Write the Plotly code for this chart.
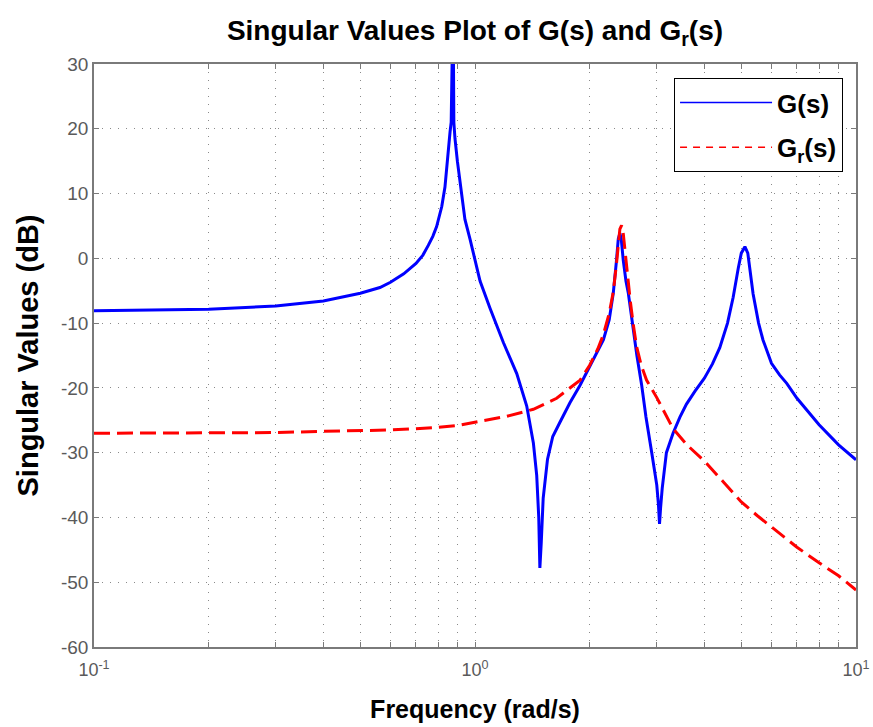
import plotly.graph_objects as go

# ---- data ----
freq_G = [0.1, 0.15, 0.2, 0.3, 0.4, 0.5, 0.563, 0.6, 0.65, 0.7, 0.73, 0.754, 0.775, 0.793,
          0.818, 0.834, 0.843, 0.851, 0.860, 0.866, 0.870, 0.876, 0.880, 0.886, 0.899, 0.923,
          0.941, 0.97, 1.0, 1.031, 1.095, 1.187, 1.287, 1.367, 1.423, 1.452, 1.47, 1.48,
          1.492, 1.51, 1.55, 1.6, 1.671, 1.775, 1.887, 2.0, 2.1, 2.172, 2.25, 2.306, 2.35,
          2.377, 2.40, 2.42, 2.45, 2.49, 2.526, 2.57, 2.604, 2.66, 2.737, 2.81, 2.91, 3.0,
          3.03, 3.05, 3.07, 3.1, 3.18, 3.31, 3.45, 3.59, 3.78, 4.0, 4.2, 4.39, 4.6, 4.76,
          4.91, 5.0, 5.11, 5.2, 5.37, 5.55, 5.7, 6.0, 6.3, 6.58, 7.0, 7.5, 8.0, 9.0, 10.0]
mag_G = [-8.1, -8.0, -7.85, -7.35, -6.6, -5.4, -4.5, -3.7, -2.4, -0.8, 0.5, 2.0, 3.4, 4.9,
         8.0, 11.0, 14.0, 17.5, 19.5, 21.0, 40.0, 40.0, 21.0, 18.5, 15.0, 9.5,
         6.0, 3.0, -0.2, -3.5, -7.7, -13.0, -17.8, -22.8, -28.5, -33.5, -40.0, -47.8,
         -44.0, -37.0, -31.0, -27.5, -25.3, -22.3, -19.6, -16.7, -14.5, -12.6, -9.5, -5.4, -0.5,
         3.0, 3.9, 3.0, -0.3, -3.5, -5.4, -8.5, -11.6, -15.0, -19.5, -24.5, -30.0, -35.0,
         -38.0, -41.0, -38.5, -35.5, -30.0, -27.0, -24.5, -22.5, -20.5, -18.5, -16.3, -13.8, -10.0, -6.0,
         -1.5, 0.8, 1.8, 0.8, -5.5, -10.0, -12.6, -16.2, -18.0, -19.3, -21.6, -23.8, -25.7, -28.8, -31.1]

freq_Gr = [0.1, 0.2, 0.3, 0.4, 0.5, 0.6, 0.7, 0.8, 0.9, 1.0, 1.21, 1.423, 1.638, 1.887,
           2.0, 2.1, 2.172, 2.25, 2.306, 2.35, 2.377, 2.40, 2.425, 2.45, 2.475, 2.51, 2.554,
           2.6, 2.655, 2.73, 2.82, 3.0, 3.31, 3.6, 4.0, 4.5, 5.0, 5.5, 6.0, 7.0, 8.0, 9.0, 10.0]
mag_Gr = [-27.0, -27.0, -26.9, -26.7, -26.6, -26.5, -26.3, -26.1, -25.8, -25.3, -24.4, -23.3,
          -21.6, -18.8, -16.5, -14.0, -11.8, -8.5, -5.2, -1.0, 2.5, 4.5, 5.1, 3.8, 1.3, -2.5,
          -6.4, -10.0, -13.6, -16.5, -18.8, -21.5, -26.3, -28.8, -31.3, -34.6, -37.6, -39.7,
          -41.5, -44.6, -47.0, -49.0, -51.2]

y_ticks = [-60, -50, -40, -30, -20, -10, 0, 10, 20, 30]
y_tick_labels = ["-60", "-50", "-40", "-30", "-20", "-10", "0", "10", "20", "30"]
x_major = [0.1, 1, 10]
x_major_labels = ["10<sup>-1</sup>", "10<sup>0</sup>", "10<sup>1</sup>"]

# all grid positions on the log axis (majors + 2..9 minors)
x_grid = []
x_grid_text = []
for dec in [0.1, 1]:
    for k in range(1, 10):
        v = round(dec * k, 3)
        x_grid.append(v)
        x_grid_text.append(x_major_labels[x_major.index(v)] if v in x_major else "")
x_grid.append(10)
x_grid_text.append(x_major_labels[2])

FONT = "Arial, Liberation Sans, Helvetica, sans-serif"
AXIS_GRAY = "#7a7a7a"
GRID_GRAY = "#8a8a8a"
TICK_TEXT = "#5a5a5a"
W, H = 873, 727

fig = go.Figure()
fig.add_trace(go.Scatter(x=freq_G, y=mag_G, mode="lines", name="G(s)",
                         line=dict(color="#0000ff", width=3), showlegend=False))
fig.add_trace(go.Scatter(x=freq_Gr, y=mag_Gr, mode="lines", name="G<sub>r</sub>(s)",
                         line=dict(color="#ff0000", width=3, dash="16px,7px"), showlegend=False))
# legend samples (thin lines like the reference legend)
fig.add_trace(go.Scatter(x=[None], y=[None], mode="lines", name="<b>G(s)</b>", legendgroup="a",
                         line=dict(color="#0000ff", width=1.5)))
fig.add_trace(go.Scatter(x=[None], y=[None], mode="lines", name="<b>G<sub>r</sub>(s)</b>", legendgroup="b",
                         line=dict(color="#ff0000", width=1.5, dash="7px,6px")))

fig.update_layout(
    width=W, height=H,
    paper_bgcolor="white", plot_bgcolor="white",
    margin=dict(l=94, r=17, t=64, b=80, autoexpand=False),
    font=dict(family=FONT, color="black"),
    title=dict(text="<b>Singular Values Plot of G(s) and G<sub>r</sub>(s)</b>",
               x=0.5, xref="paper", xanchor="center",
               y=1 - 30 / H, yref="container", yanchor="middle",
               font=dict(size=28, family=FONT, color="black")),
    legend=dict(x=0.983, xanchor="right", y=0.976, yanchor="top",
                bgcolor="white", bordercolor="black", borderwidth=1,
                font=dict(size=26, family=FONT, color="black"),
                tracegroupgap=8, itemwidth=92),
    showlegend=True,
)

fig.update_xaxes(
    type="log", range=[-1, 1], automargin=False,
    tickmode="array", tickvals=x_grid, ticktext=x_grid_text,
    ticks="inside", ticklen=5, tickcolor=AXIS_GRAY,
    showline=True, linecolor=AXIS_GRAY, linewidth=1.5, mirror="ticks",
    showgrid=True, gridcolor=GRID_GRAY, griddash="1px,7px", gridwidth=1,
    zeroline=False,
    tickfont=dict(size=18, family=FONT, color=TICK_TEXT),
    ticklabelstandoff=6,
    title=dict(text="<b>Frequency (rad/s)</b>", font=dict(size=25, family=FONT, color="black"),
               standoff=21),
)
fig.update_yaxes(
    range=[-60, 30], automargin=False,
    tickmode="array", tickvals=y_ticks, ticktext=y_tick_labels,
    ticks="inside", ticklen=5, tickcolor=AXIS_GRAY,
    showline=True, linecolor=AXIS_GRAY, linewidth=1.5, mirror="ticks",
    showgrid=True, gridcolor=GRID_GRAY, griddash="1px,7px", gridwidth=1,
    zeroline=False,
    tickfont=dict(size=19, family=FONT, color=TICK_TEXT),
    title=dict(text="<b>Singular Values (dB)</b>", font=dict(size=29, family=FONT, color="black"),
               standoff=14),
)

# remove the page's default body margin so the 873x727 figure fills the window exactly
fig.write_html("out.html", config={"displayModeBar": False},
               post_script="document.body.style.margin='0';document.body.style.overflow='hidden';")
